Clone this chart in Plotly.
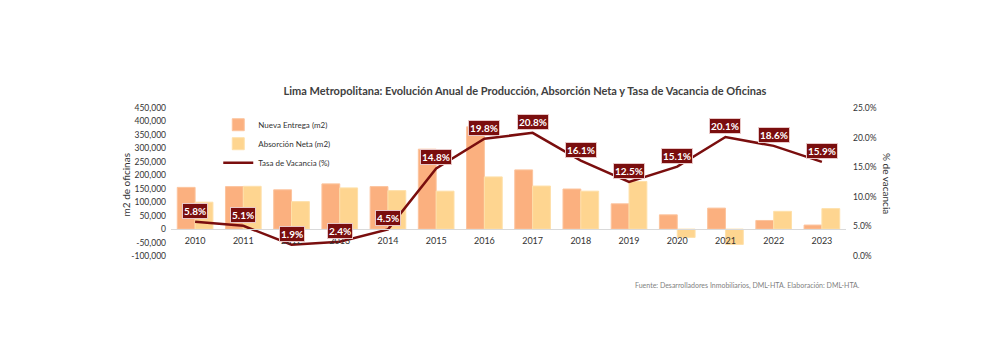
import plotly.graph_objects as go

years = ["2010", "2011", "2012", "2013", "2014", "2015", "2016",
         "2017", "2018", "2019", "2020", "2021", "2022", "2023"]
nueva_entrega = [155000, 158000, 146000, 168000, 158000, 297000, 380000,
                 220000, 149000, 94000, 53000, 78000, 32000, 15000]
absorcion_neta = [100000, 159000, 102000, 153000, 143000, 141000, 194000,
                  160000, 141000, 177000, -31000, -57000, 66000, 76000]
tasa_vacancia = [5.8, 5.1, 1.9, 2.4, 4.5, 14.8, 19.8,
                 20.8, 16.1, 12.5, 15.1, 20.1, 18.6, 15.9]

left_tickvals = [-100000, -50000, 0, 50000, 100000, 150000, 200000,
                 250000, 300000, 350000, 400000, 450000]
left_ticktext = ["-100,000", "-50,000", "0", "50,000", "100,000", "150,000",
                 "200,000", "250,000", "300,000", "350,000", "400,000", "450,000"]
right_tickvals = [0, 5, 10, 15, 20, 25]
right_ticktext = ["0.0%", "5.0%", "10.0%", "15.0%", "20.0%", "25.0%"]

FONT = "Lato"
DARKRED = "#7A0E0E"

fig = go.Figure()
fig.add_trace(go.Bar(x=years, y=nueva_entrega, name="Nueva Entrega (m2)",
                     marker=dict(color="#FBB07F", line=dict(color="#FCC49E", width=1)),
                     yaxis="y"))
fig.add_trace(go.Bar(x=years, y=absorcion_neta, name="Absorción Neta (m2)",
                     marker=dict(color="#FED590", line=dict(color="#FEE0AA", width=1)),
                     yaxis="y"))
fig.add_trace(go.Scatter(x=years, y=tasa_vacancia, name="Tasa de Vacancia (%)",
                         mode="lines", line=dict(color=DARKRED, width=2.5),
                         yaxis="y2"))

for i, v in enumerate(tasa_vacancia):
    fig.add_annotation(x=i, y=v, xref="x", yref="y2", yshift=11,
                       text=f"<b>{v:.1f}%</b>", showarrow=False,
                       font=dict(family=FONT, size=10, color="white"),
                       bgcolor=DARKRED, bordercolor="#E8C8C8", borderwidth=1,
                       borderpad=1)

fig.add_annotation(x=-0.066, y=0.48, xref="paper", yref="paper",
                   xanchor="center", yanchor="middle",
                   text="m2 de oficinas", textangle=-90, showarrow=False,
                   font=dict(family=FONT, size=10, color="#333333"))
fig.add_annotation(x=1.06, y=0.49, xref="paper", yref="paper",
                   xanchor="center", yanchor="middle",
                   text="% de vacancia", textangle=90, showarrow=False,
                   font=dict(family=FONT, size=10, color="#333333"))
fig.add_annotation(x=(862 - 171) / 675, y=(256 - 285) / 148, xref="paper", yref="paper",
                   xanchor="right", yanchor="middle",
                   text="Fuente: Desarrolladores Inmobiliarios, DML-HTA. Elaboración: DML-HTA.",
                   showarrow=False, font=dict(family=FONT, size=7, color="#7F7F7F"))

fig.update_layout(
    width=1000, height=353,
    margin=dict(l=171, r=154, t=108, b=97),
    paper_bgcolor="white", plot_bgcolor="white",
    barmode="group", bargap=0.26, bargroupgap=0.0,
    font=dict(family=FONT, size=9, color="#333333"),
    title=dict(text="<b>Lima Metropolitana: Evolución Anual de Producción, Absorción Neta y Tasa de Vacancia de Oficinas</b>",
               x=0.525, xanchor="center", y=1 - 91 / 353, yanchor="middle",
               font=dict(family=FONT, size=11, color="#404040")),
    legend=dict(x=0.07, y=0.985, xanchor="left", yanchor="top",
                bgcolor="rgba(0,0,0,0)", font=dict(family=FONT, size=8, color="#333333"),
                tracegroupgap=0, itemwidth=30),
    showlegend=True,
    xaxis=dict(type="category", range=[-0.5, 13.5], anchor="free",
               position=100000 / 550000,
               showline=True, linecolor="#D9D9D9", linewidth=1,
               showgrid=False, ticks="", tickfont=dict(family=FONT, size=9, color="#333333"),
               ticklabelstandoff=3),
    yaxis=dict(range=[-100000, 450000], tickvals=left_tickvals, ticktext=left_ticktext,
               showgrid=False, zeroline=False, showline=False, ticks="",
               ticklabelstandoff=4,
               tickfont=dict(family=FONT, size=8.5, color="#333333")),
    yaxis2=dict(range=[0, 25], tickvals=right_tickvals, ticktext=right_ticktext,
                overlaying="y", side="right", showgrid=False, zeroline=False,
                showline=False, ticks="", ticklabelstandoff=6,
                tickfont=dict(family=FONT, size=8.5, color="#333333")),
)

fig.write_html("out.html")
